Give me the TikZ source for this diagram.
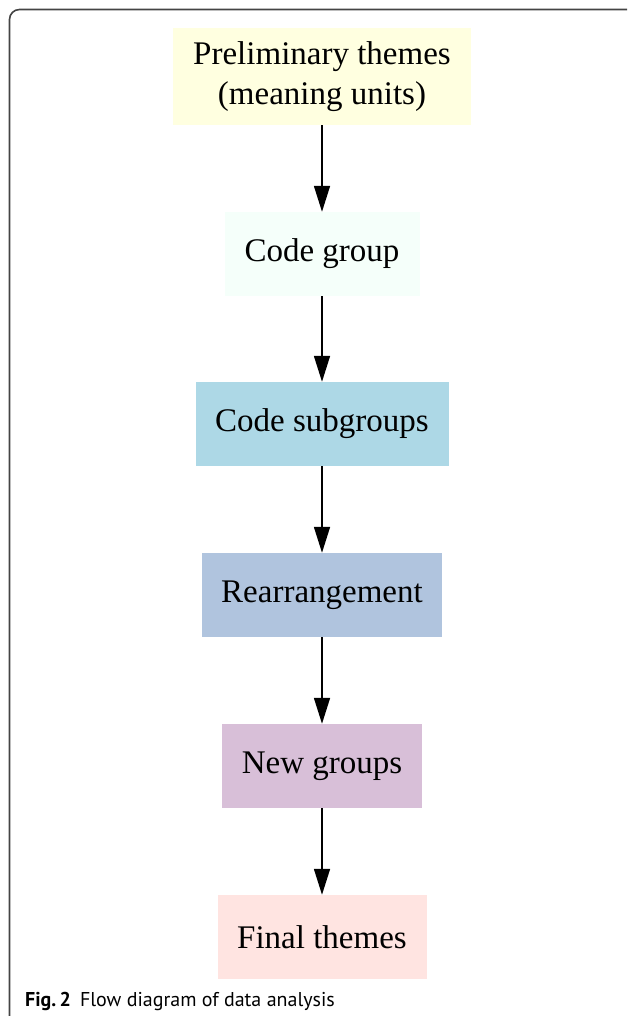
\documentclass[tikz,border=0pt]{standalone}
\usepackage{fontspec}
\setmainfont{Liberation Serif}
\newfontfamily\capfont{PT Sans}
\usetikzlibrary{arrows.meta}
\definecolor{cLightYellow}{HTML}{FFFFE0}
\definecolor{cMintCream}{HTML}{F5FFFA}
\definecolor{cLightBlue}{HTML}{ADD8E6}
\definecolor{cSteelBlue}{HTML}{B0C4DE}
\definecolor{cThistle}{HTML}{D8BFD8}
\definecolor{cMistyRose}{HTML}{FFE4E1}
\definecolor{cFrame}{HTML}{444444}
\tikzset{
  stepbox/.style={draw=none, minimum height=84pt, inner sep=0pt, align=center,
    font=\fontsize{33}{40}\selectfont, text=black},
  flowarrow/.style={line width=1.6pt, draw=black,
    -{Triangle[length=26pt,width=16pt]}},
}
\begin{document}
\begin{tikzpicture}[x=1pt,y=1pt]
\useasboundingbox (0,0) rectangle (627,-1016);
% frame
\draw[cFrame, line width=1.6pt, rounded corners=10pt] (9.5,-1016) -- (9.5,-9.5) -- (627,-9.5);
% nodes
\node[stepbox, fill=cLightYellow, minimum width=298pt, minimum height=97pt] (n1) at (322,-76.5)
  {Preliminary themes\\(meaning units)};
\node[stepbox, fill=cMintCream, minimum width=195pt] (n2) at (322,-254) {Code group};
\node[stepbox, fill=cLightBlue, minimum width=253pt] (n3) at (322,-424) {Code subgroups};
\node[stepbox, fill=cSteelBlue, minimum width=240pt] (n4) at (322,-595) {Rearrangement};
\node[stepbox, fill=cThistle, minimum width=200pt] (n5) at (322,-766) {New groups};
\node[stepbox, fill=cMistyRose, minimum width=209pt] (n6) at (322,-937) {Final themes};
% arrows
\draw[flowarrow] (n1.south) -- (n2.north);
\draw[flowarrow] (n2.south) -- (n3.north);
\draw[flowarrow] (n3.south) -- (n4.north);
\draw[flowarrow] (n4.south) -- (n5.north);
\draw[flowarrow] (n5.south) -- (n6.north);
% caption
\node[anchor=base west, inner sep=0pt, font=\capfont\fontsize{20}{22}\selectfont] (cap) at (25,-1006)
  {\textbf{Fig.\,2}\hspace{9pt}Flow diagram of data analysis};
\end{tikzpicture}
\end{document}
